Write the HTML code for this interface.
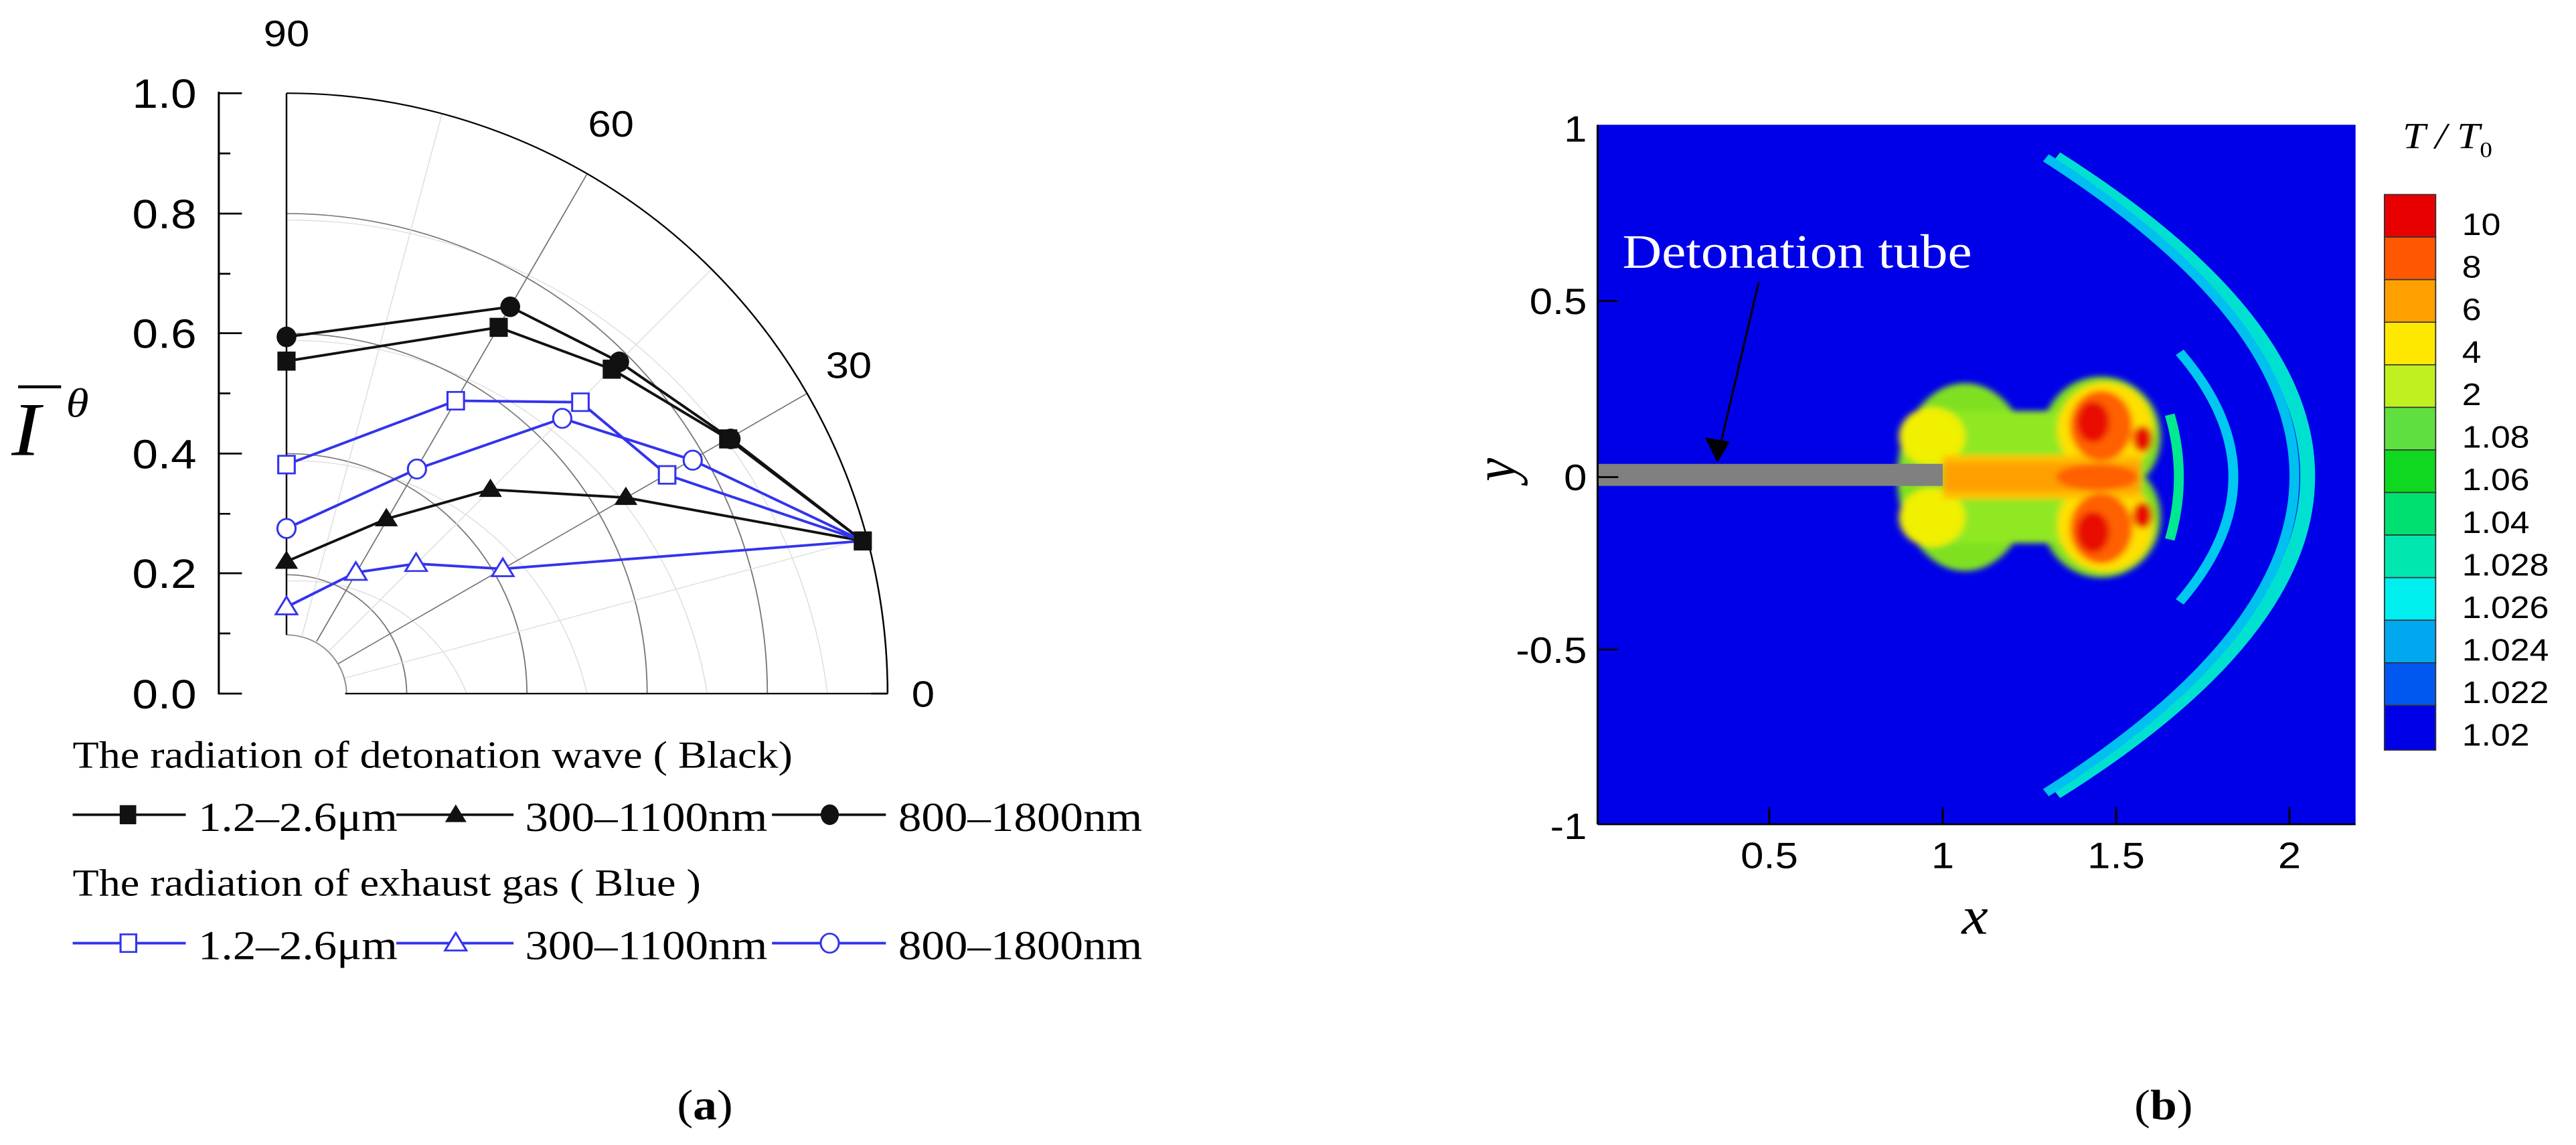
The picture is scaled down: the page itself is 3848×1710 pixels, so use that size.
<!DOCTYPE html>
<html><head><meta charset="utf-8"><style>
html,body{margin:0;padding:0;background:#fff;width:3848px;height:1710px;overflow:hidden}
svg{position:absolute;top:0}
</style></head><body>
<svg style="left:0" width="1924" height="1710" viewBox="0 0 1560 1560" preserveAspectRatio="none">
<g font-family="Liberation Sans, sans-serif" fill="#000">
<g fill="none" stroke="#ddd" stroke-width="1.2">
<path d="M347,792 A218.4,245.4 0 0 1 565.4,945"/>
<path d="M347,628 A364,409 0 0 1 711,945"/>
<path d="M347,464 A509.6,572.6 0 0 1 856.6,945"/>
<path d="M347,300 A655.2,736.2 0 0 1 1002.2,945"/>
</g>
<g fill="none" stroke="#777" stroke-width="1.5">
<path d="M347,783 A145.6,163.6 0 0 1 492.6,945"/>
<path d="M347,618 A291.2,327.2 0 0 1 638.2,945"/>
<path d="M347,454 A436.8,490.8 0 0 1 783.8,945"/>
<path d="M347,291 A582.4,654.4 0 0 1 929.4,945"/>
</g>
<g stroke="#ddd" stroke-width="1.2">
<line x1="365.8" y1="866" x2="535.4" y2="155"/>
<line x1="398.5" y1="887" x2="861.8" y2="367"/>
<line x1="417.3" y1="924" x2="1050" y2="733"/>
</g>
<g stroke="#777" stroke-width="1.5">
<line x1="383.4" y1="874" x2="711" y2="237"/>
<line x1="410" y1="904" x2="977.5" y2="536"/>
</g>
<path d="M347,865 A72.8,81.8 0 0 1 419.8,945" fill="none" stroke="#888" stroke-width="1.5"/>
<path d="M347,127 A728,818 0 0 1 1075,945" fill="none" stroke="#000" stroke-width="2"/>
<line x1="347" y1="127" x2="347" y2="865" stroke="#000" stroke-width="2"/>
<line x1="418" y1="945" x2="1075" y2="945" stroke="#000" stroke-width="2"/>
<line x1="1075" y1="930" x2="1075" y2="945" stroke="#000" stroke-width="2"/>
<line x1="1055" y1="945" x2="1075" y2="945" stroke="#000" stroke-width="2.5"/>
<line x1="265" y1="125" x2="265" y2="946" stroke="#000" stroke-width="2.5"/>
<g stroke="#000" stroke-width="2.5">
<line x1="265" y1="127" x2="293" y2="127"/><line x1="265" y1="291" x2="293" y2="291"/><line x1="265" y1="454" x2="293" y2="454"/><line x1="265" y1="618" x2="293" y2="618"/><line x1="265" y1="781" x2="293" y2="781"/><line x1="265" y1="945" x2="293" y2="945"/>
<line x1="265" y1="209" x2="279" y2="209"/><line x1="265" y1="373" x2="279" y2="373"/><line x1="265" y1="536" x2="279" y2="536"/><line x1="265" y1="700" x2="279" y2="700"/><line x1="265" y1="863" x2="279" y2="863"/>
</g>
<g font-size="56" text-anchor="end">
<text x="238" y="147">1.0</text><text x="238" y="311">0.8</text><text x="238" y="474">0.6</text><text x="238" y="638">0.4</text><text x="238" y="801">0.2</text><text x="238" y="965">0.0</text>
</g>
<g font-size="50" text-anchor="middle">
<text x="347" y="63">90</text><text x="740" y="186">60</text><text x="1028" y="515">30</text><text x="1118" y="963">0</text>
</g>
<text x="14" y="620" font-family="Liberation Serif, serif" font-style="italic" font-size="104">I</text>
<line x1="22" y1="527" x2="74" y2="527" stroke="#000" stroke-width="4"/>
<text x="80" y="568" font-family="Liberation Serif, serif" font-style="italic" font-size="56">θ</text>
<g fill="none" stroke-width="3.5">
<polyline stroke="#111" points="347,492 604,446 741,503 882,598 1045,737"/>
<polyline stroke="#111" points="347,459 618,418 750,493 885,598 1045,737"/>
<polyline stroke="#111" points="347,765 468,707 594,667 758,678 1045,737"/>
<polyline stroke="#3333ee" points="347,633 552,546 703,548 808,647 1045,737"/>
<polyline stroke="#3333ee" points="347,720 505,639 681,570 839,627 1045,737"/>
<polyline stroke="#3333ee" points="347,827 431,780 504,768 609,775 1045,737"/>
</g>
<g fill="#111">
<rect x="336" y="479" width="22" height="26"/><rect x="593" y="433" width="22" height="26"/><rect x="730" y="490" width="22" height="26"/><rect x="871" y="585" width="22" height="26"/><rect x="1034" y="724" width="22" height="26"/>
<ellipse cx="347" cy="459" rx="12" ry="14"/><ellipse cx="618" cy="418" rx="12" ry="14"/><ellipse cx="750" cy="493" rx="12" ry="14"/><ellipse cx="885" cy="598" rx="12" ry="14"/>
<path d="M347,750 l14,25 h-28z M468,692 l14,25 h-28z M594,652 l14,25 h-28z M758,663 l14,25 h-28z"/>
</g>
<g fill="#fff" stroke="#3333ee" stroke-width="2.5">
<rect x="337" y="621" width="20" height="24"/><rect x="542" y="534" width="20" height="24"/><rect x="693" y="536" width="20" height="24"/><rect x="798" y="635" width="20" height="24"/>
<ellipse cx="347" cy="720" rx="11" ry="13"/><ellipse cx="505" cy="639" rx="11" ry="13"/><ellipse cx="681" cy="570" rx="11" ry="13"/><ellipse cx="839" cy="627" rx="11" ry="13"/>
<path d="M347,813 l13,24 h-26z M431,766 l13,24 h-26z M504,754 l13,24 h-26z M609,761 l13,24 h-26z"/>
</g>
<g font-family="Liberation Serif, serif" font-size="52">
<text x="88" y="1046">The radiation of detonation wave ( Black)</text>
<text x="88" y="1220">The radiation of exhaust gas ( Blue )</text>
<g font-size="56"><text x="240" y="1132">1.2–2.6μm</text><text x="636" y="1132">300–1100nm</text><text x="1088" y="1132">800–1800nm</text>
<text x="240" y="1307">1.2–2.6μm</text><text x="636" y="1307">300–1100nm</text><text x="1088" y="1307">800–1800nm</text></g>
<text x="820" y="1525" font-size="58">(<tspan font-weight="bold">a</tspan>)</text>
</g>
<g stroke-width="3.5">
<line x1="88" y1="1110" x2="225" y2="1110" stroke="#111"/><line x1="480" y1="1110" x2="622" y2="1110" stroke="#111"/><line x1="935" y1="1110" x2="1073" y2="1110" stroke="#111"/>
<line x1="88" y1="1285" x2="225" y2="1285" stroke="#3333ee"/><line x1="480" y1="1285" x2="622" y2="1285" stroke="#3333ee"/><line x1="935" y1="1285" x2="1073" y2="1285" stroke="#3333ee"/>
</g>
<rect x="145" y="1097" width="20" height="26" fill="#111"/>
<path d="M552,1096 l13,24 h-26z" fill="#111"/>
<ellipse cx="1005" cy="1110" rx="11" ry="14" fill="#111"/>
<g fill="#fff" stroke="#3333ee" stroke-width="2.5">
<rect x="146" y="1273" width="19" height="24"/><path d="M552,1271 l13,24 h-26z"/><ellipse cx="1005" cy="1285" rx="11" ry="13"/>
</g>
</g>
</svg>

<svg style="left:1924px" width="1924" height="1710" viewBox="0 0 1560 1560" preserveAspectRatio="none">
<defs><filter id="b"><feGaussianBlur stdDeviation="4"/></filter><clipPath id="c"><rect x="375" y="170" width="918" height="953"/></clipPath></defs>
<rect x="375" y="170" width="918" height="953" fill="#0000e8"/>
<g clip-path="url(#c)" fill="none">
<path d="M930,215 Q1540,650 930,1080" stroke="#00e0d0" stroke-width="18"/>
<path d="M918,215 Q1520,650 918,1080" stroke="#00c0f0" stroke-width="12"/>
<path d="M1080,480 Q1210,650 1080,820" stroke="#00c8f0" stroke-width="12"/>
<path d="M1068,565 Q1090,650 1068,735" stroke="#00e890" stroke-width="12"/>
<g filter="url(#b)">
<ellipse cx="820" cy="650" rx="82" ry="128" fill="#7fe020"/>
<ellipse cx="985" cy="595" rx="72" ry="82" fill="#7fe020"/>
<ellipse cx="985" cy="705" rx="72" ry="82" fill="#7fe020"/>
<rect x="800" y="560" width="180" height="180" fill="#90e820"/>
<ellipse cx="780" cy="595" rx="40" ry="40" fill="#f0f000"/>
<ellipse cx="780" cy="705" rx="40" ry="40" fill="#f0f000"/>
<ellipse cx="990" cy="585" rx="58" ry="64" fill="#ffe000"/>
<ellipse cx="990" cy="715" rx="58" ry="64" fill="#ffe000"/>
<rect x="793" y="620" width="240" height="60" fill="#ffc000"/>
<rect x="793" y="630" width="240" height="40" fill="#ffa000"/>
<ellipse cx="980" cy="650" rx="50" ry="18" fill="#ff6000"/>
<ellipse cx="985" cy="580" rx="38" ry="48" fill="#ff6000"/>
<ellipse cx="985" cy="720" rx="38" ry="48" fill="#ff6000"/>
<ellipse cx="975" cy="575" rx="20" ry="28" fill="#e81000"/>
<ellipse cx="975" cy="725" rx="20" ry="28" fill="#e81000"/>
<ellipse cx="1035" cy="598" rx="12" ry="18" fill="#e81000"/>
<ellipse cx="1035" cy="702" rx="12" ry="18" fill="#e81000"/>
</g>
</g>
<rect x="375" y="632" width="418" height="30" fill="#808080"/>
<g stroke="#000" stroke-width="2.5">
<line x1="375" y1="170" x2="375" y2="1123"/><line x1="375" y1="1123" x2="1293" y2="1123"/>
<line x1="375" y1="410" x2="400" y2="410"/><line x1="375" y1="885" x2="400" y2="885"/><line x1="375" y1="650" x2="400" y2="650"/>
<line x1="583" y1="1123" x2="583" y2="1100"/><line x1="793" y1="1123" x2="793" y2="1100"/><line x1="1003" y1="1123" x2="1003" y2="1100"/><line x1="1213" y1="1123" x2="1213" y2="1100"/>
</g>
<text x="405" y="365" font-family="Liberation Serif, serif" font-size="66" fill="#fff">Detonation tube</text>
<line x1="570" y1="385" x2="525" y2="600" stroke="#000" stroke-width="2.5"/>
<path d="M520,630 l-15,-34 l30,6z" fill="#000"/>
<g font-family="Liberation Sans, sans-serif" font-size="50" text-anchor="end">
<text x="362" y="193">1</text><text x="362" y="428">0.5</text><text x="362" y="668">0</text><text x="362" y="903">-0.5</text><text x="362" y="1143">-1</text>
</g>
<g font-family="Liberation Sans, sans-serif" font-size="50" text-anchor="middle">
<text x="583" y="1183">0.5</text><text x="793" y="1183">1</text><text x="1003" y="1183">1.5</text><text x="1213" y="1183">2</text>
</g>
<text x="832" y="1272" font-family="Liberation Serif, serif" font-style="italic" font-size="72" text-anchor="middle">x</text>
<text transform="translate(275,640) rotate(-90)" font-family="Liberation Serif, serif" font-style="italic" font-size="72" text-anchor="middle">y</text>
<text x="1350" y="202" font-family="Liberation Serif, serif" font-style="italic" font-size="50">T / T<tspan font-size="30" dy="12" font-style="normal">0</tspan></text>
<g stroke="#333" stroke-width="1.5">
<rect x="1328" y="265" width="62" height="58" fill="#e80000"/>
<rect x="1328" y="323" width="62" height="58" fill="#ff5800"/>
<rect x="1328" y="381" width="62" height="58" fill="#ffa000"/>
<rect x="1328" y="439" width="62" height="58" fill="#ffe800"/>
<rect x="1328" y="497" width="62" height="58" fill="#c0f020"/>
<rect x="1328" y="555" width="62" height="58" fill="#60e040"/>
<rect x="1328" y="613" width="62" height="58" fill="#10d820"/>
<rect x="1328" y="671" width="62" height="58" fill="#00e070"/>
<rect x="1328" y="729" width="62" height="58" fill="#00e8b0"/>
<rect x="1328" y="787" width="62" height="58" fill="#00f0f0"/>
<rect x="1328" y="845" width="62" height="58" fill="#00a8f0"/>
<rect x="1328" y="903" width="62" height="58" fill="#0058f0"/>
<rect x="1328" y="961" width="62" height="61" fill="#0000e8"/>
</g>
<g font-family="Liberation Sans, sans-serif" font-size="42">
<text x="1422" y="320">10</text><text x="1422" y="378">8</text><text x="1422" y="436">6</text><text x="1422" y="494">4</text><text x="1422" y="552">2</text><text x="1422" y="610">1.08</text><text x="1422" y="668">1.06</text><text x="1422" y="726">1.04</text><text x="1422" y="784">1.028</text><text x="1422" y="842">1.026</text><text x="1422" y="900">1.024</text><text x="1422" y="958">1.022</text><text x="1422" y="1016">1.02</text>
</g>
<text x="1025" y="1525" font-family="Liberation Serif, serif" font-size="58">(<tspan font-weight="bold">b</tspan>)</text>
</svg>
</body></html>
